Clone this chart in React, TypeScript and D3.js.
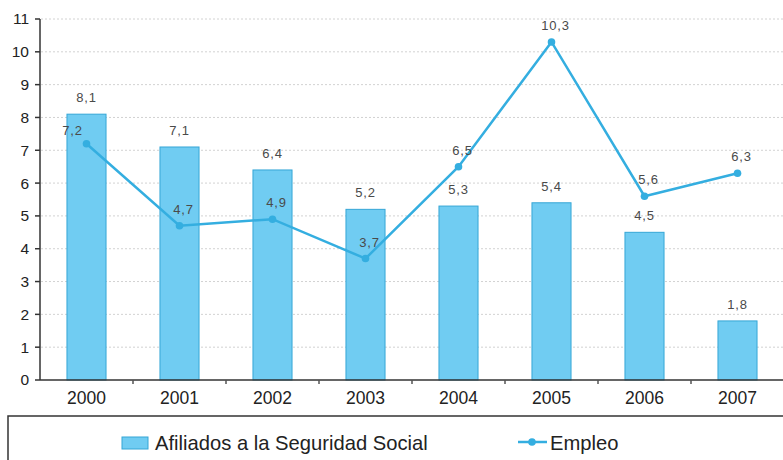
import React from "react";
import * as d3 from "d3";

const years = ["2000", "2001", "2002", "2003", "2004", "2005", "2006", "2007"];
const afiliados = [8.1, 7.1, 6.4, 5.2, 5.3, 5.4, 4.5, 1.8];
const empleo = [7.2, 4.7, 4.9, 3.7, 6.5, 10.3, 5.6, 6.3];
const yTicks = [0, 1, 2, 3, 4, 5, 6, 7, 8, 9, 10, 11];
const seriesNames = ["Afiliados a la Seguridad Social", "Empleo"];

const W = 783;
const H = 460;
const FONT = "'Liberation Sans', Arial, sans-serif";
const BAR_FILL = "#70CCF2";
const BAR_STROKE = "#35A6D6";
const LINE = "#34AEE0";

const fmt = (v: number) => v.toFixed(1).replace(".", ",");

export default function App() {
  const x = d3.scaleBand<string>().domain(years).range([40, 784]).paddingInner(0.58).paddingOuter(0.29);
  const xc = d3.scaleBand<string>().domain(years).range([40, 784]);
  const y = d3.scaleLinear().domain([0, 11]).range([380, 19]);
  const line = d3
    .line<number>()
    .x((_, i) => xc(years[i])! + xc.bandwidth() / 2)
    .y((d) => y(d));

  return (
    <svg width={W} height={H} style={{ position: "absolute", left: 0, top: 0, background: "#fff" }} fontFamily={FONT}>
      {/* grid */}
      {yTicks.filter((t) => t > 0).map((t) => (
        <line key={t} x1={41} x2={W} y1={y(t)} y2={y(t)} stroke="#d2d2d2" strokeWidth={1} strokeDasharray="2,2" />
      ))}
      {/* bars */}
      {afiliados.map((v, i) => (
        <g key={i}>
          <rect x={x(years[i])} y={y(v)} width={x.bandwidth()} height={y(0) - y(v)} fill={BAR_FILL} stroke={BAR_STROKE} strokeWidth={1} />
          <text x={x(years[i])! + x.bandwidth() / 2} y={y(v) - 12} textAnchor="middle" fontSize={13} fill="#4a4a4a" letterSpacing={0.8}>
            {fmt(v)}
          </text>
        </g>
      ))}
      {/* axes */}
      <line x1={40} x2={40} y1={y(11)} y2={y(0)} stroke="#333" strokeWidth={1.5} />
      <line x1={40} x2={W} y1={y(0)} y2={y(0)} stroke="#333" strokeWidth={1.5} />
      {yTicks.map((t) => (
        <g key={t}>
          <line x1={35} x2={40} y1={y(t)} y2={y(t)} stroke="#333" strokeWidth={1.5} />
          <text x={29} y={y(t)} dy="0.35em" textAnchor="end" fontSize={15.5} fill="#222">
            {t}
          </text>
        </g>
      ))}
      {years.map((yr, i) => (
        <g key={yr}>
          {i > 0 && <line x1={xc(yr)} x2={xc(yr)} y1={y(0)} y2={y(0) + 4} stroke="#555" strokeWidth={1.5} />}
          <text x={xc(yr)! + xc.bandwidth() / 2} y={y(0) + 24} textAnchor="middle" fontSize={17.5} fill="#222">
            {yr}
          </text>
        </g>
      ))}
      {/* line */}
      <path d={line(empleo)!} fill="none" stroke={LINE} strokeWidth={2.5} />
      {empleo.map((v, i) => (
        <g key={i}>
          <circle cx={xc(years[i])! + xc.bandwidth() / 2} cy={y(v)} r={3.8} fill={LINE} />
          <text
            x={xc(years[i])! + xc.bandwidth() / 2 + (i === 0 ? -14 : 4)}
            y={y(v) - (i === 0 ? 9 : 12)}
            textAnchor="middle"
            fontSize={13}
            fill="#4a4a4a"
            letterSpacing={0.8}
          >
            {fmt(v)}
          </text>
        </g>
      ))}
      {/* legend */}
      <rect x={8} y={416} width={W + 10} height={60} fill="none" stroke="#333" strokeWidth={1.5} />
      <rect x={122} y={437} width={26} height={12} fill={BAR_FILL} stroke={BAR_STROKE} strokeWidth={1} />
      <text x={155} y={450} fontSize={20.2} fill="#222">
        {seriesNames[0]}
      </text>
      <line x1={518} x2={547} y1={442} y2={442} stroke={LINE} strokeWidth={2.5} />
      <circle cx={532} cy={442} r={3.8} fill={LINE} />
      <text x={550} y={450} fontSize={20.2} fill="#222">
        {seriesNames[1]}
      </text>
    </svg>
  );
}
